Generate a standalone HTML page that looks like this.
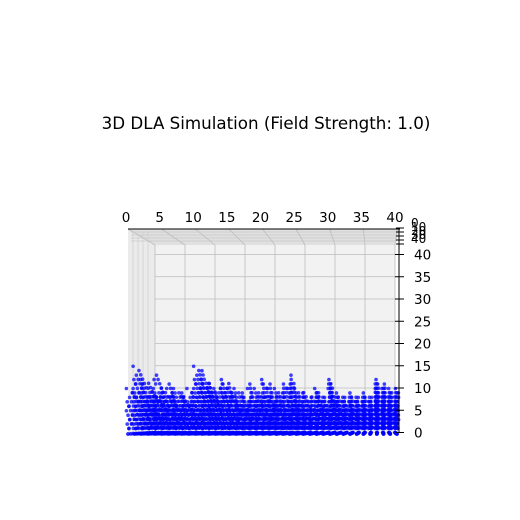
<!DOCTYPE html>
<html><head><meta charset="utf-8"><style>
body{margin:0;background:#fff}
svg{display:block;font-family:"DejaVu Sans","Liberation Sans",sans-serif}
</style></head><body>
<svg id="chart" width="520" height="520" viewBox="0 0 520 520">
<rect width="520" height="520" fill="#fff"/>
<text x="266" y="129" text-anchor="middle" font-size="16.7">3D DLA Simulation (Field Strength: 1.0)</text>
<g id="panes"></g>
<g id="grid"></g>
<g id="points"></g>
<g id="axes"></g>
</svg>
<script>
const xTicks=[0,5,10,15,20,25,30,35,40];
const zTicks=[0,5,10,15,20,25,30,35,40];
const yTicks=[0,10,20,30,40];
const colHeights=[10,15,12,9,13,10,11,10,9,10,15,14,10,11,13,10,10,9,11,10,12,11,10,11,13,10,10,9,10,8,12,9,8,9,8,9,8,12,11,10,10];
const depthLevels=[0,0.1,0.2,0.3,0.4,0.5,0.6,0.7,0.8,0.9,1];
const NS='http://www.w3.org/2000/svg';
function mk(tag,attrs,parent){const e=document.createElementNS(NS,tag);for(const k in attrs)e.setAttribute(k,attrs[k]);parent.appendChild(e);return e;}
function px(x,d){const l=128+27*d, w=269-29*d;return l+x/40*w;}
function py(z,d){return 433-z*4.45-d*1.5;}
const panes=document.getElementById('panes'),grid=document.getElementById('grid'),pts=document.getElementById('points'),axes=document.getElementById('axes');
let e=mk('rect',{x:155,y:245,width:240,height:187,fill:'#f2f2f2'},panes);

e=mk('polygon',{points:'128,229 155,245 155,432 128,434',fill:'#ebebeb'},panes);

e=mk('polygon',{points:'128,229 400,229 395,245 155,245',fill:'#e0e0e0'},panes);

[232,235,238,241].forEach(y=>{const l=mk('line',{x1:131,y1:y,x2:397,y2:y,stroke:'#c8c8c8','stroke-width':0.8},grid);
});
xTicks.forEach(t=>{
  const x=px(t,1);
  let l=mk('line',{x1:x,y1:245,x2:x,y2:432,stroke:'#bdbdbd','stroke-width':0.8},grid);
  
  l=mk('line',{x1:px(t,0),y1:229,x2:x,y2:245,stroke:'#bdbdbd','stroke-width':0.8},grid);
  
  const tx=mk('text',{x:px(t,0)-2,y:222,'text-anchor':'middle','font-size':13.5},axes);
  tx.textContent=t;
});
zTicks.forEach(t=>{
  const y=py(t,1)+1;
  let l=mk('line',{x1:155,y1:y,x2:395,y2:y,stroke:'#bdbdbd','stroke-width':0.8},grid);
  
  l=mk('line',{x1:395,y1:y,x2:404,y2:y,stroke:'#000','stroke-width':1},axes);
  
  const tx=mk('text',{x:414,y:y+5,'font-size':13.5},axes);
  tx.textContent=t;
});
yTicks.forEach((t,i)=>{
  const y=221+i*4;
  let l=mk('line',{x1:396,y1:y+7,x2:404,y2:y+7,stroke:'#000','stroke-width':1},axes);
  
  const tx=mk('text',{x:411,y:y+6,'font-size':12},axes);
  tx.textContent=t;
});
[133,138,143,148].forEach(x=>{const l=mk('line',{x1:x,y1:232,x2:x,y2:433,stroke:'#cfcfcf','stroke-width':0.8},grid);
});
e=mk('line',{x1:128,y1:229,x2:400,y2:229,stroke:'#000','stroke-width':1},axes);

e=mk('line',{x1:399,y1:229,x2:399,y2:432,stroke:'#000','stroke-width':1},axes);

for(let x=0;x<=40;x++){for(let k=0;k<=10;k++){const d=k/10;
  const c=mk('circle',{cx:px(x,d),cy:py(0,d)+1,r:1.9,fill:'#0000ff','fill-opacity':0.85},pts);
  }}
colHeights.forEach((h,x)=>{depthLevels.forEach((d,i)=>{
  const top=Math.round(h*(1-0.06*i));
  for(let z=1;z<=top;z++){if(x<28&&z>top-3&&(z+i+x)%3===0)continue;
    const c=mk('circle',{cx:px(x,d)+((i*7+z*3)%5-2)*0.8,cy:py(z,d),r:1.8,fill:'#0000ff','fill-opacity':0.75},pts);
    }
});});
</script>
</body></html>
